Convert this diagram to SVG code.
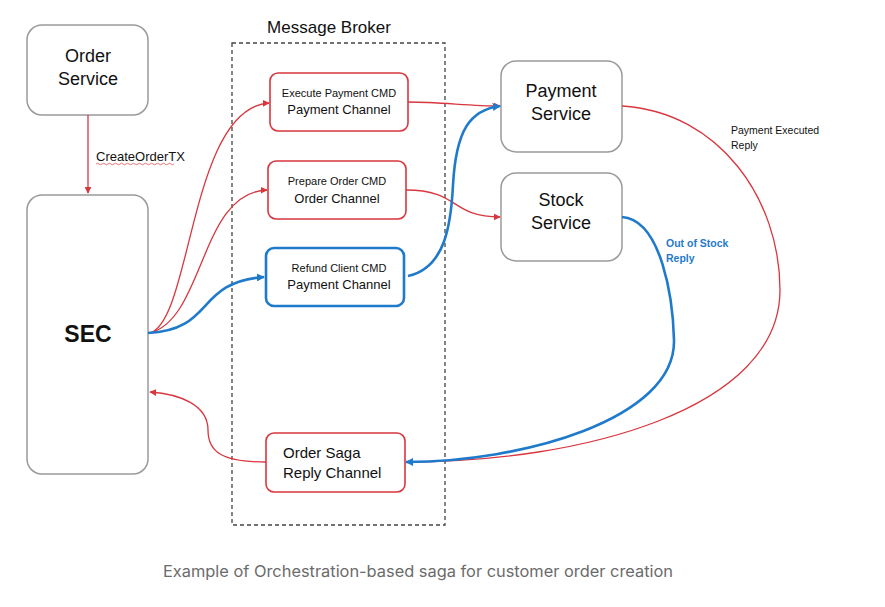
<svg xmlns="http://www.w3.org/2000/svg" width="885" height="607" viewBox="0 0 885 607">
<defs>
<style>
.svc{fill:#fff;stroke:#9a9a9a;stroke-width:1.5}
.rch{fill:#fff;stroke:#d9363e;stroke-width:1.6}
.bch{fill:#fff;stroke:#1f7acb;stroke-width:2.6}
.t{font-family:"Liberation Sans",Arial,sans-serif;fill:#111}
.r{fill:none;stroke:#d9363e;stroke-width:1.3}
.b{fill:none;stroke:#1f7acb;stroke-width:2.6}
</style>
<marker id="ar" viewBox="0 0 10 10" refX="9" refY="5" markerWidth="7" markerHeight="7" markerUnits="userSpaceOnUse" orient="auto"><path d="M0,0 L10,5 L0,10 z" fill="#d9363e"/></marker>
<marker id="ab" viewBox="0 0 10 10" refX="9" refY="5" markerWidth="8" markerHeight="8" markerUnits="userSpaceOnUse" orient="auto"><path d="M0,0 L10,5 L0,10 z" fill="#1f7acb"/></marker>
</defs>
<rect width="885" height="607" fill="#fff"/>

<g id="broker">
<rect x="232" y="43" width="213" height="482" fill="none" stroke="#444" stroke-width="1.3" stroke-dasharray="4,3"/>
<text class="t" x="329" y="33" font-size="17" text-anchor="middle">Message Broker</text>
</g>

<g id="order-service">
<rect class="svc" x="27" y="25" width="121" height="90" rx="15"/>
<text class="t" x="88" y="62" font-size="18" text-anchor="middle">Order</text>
<text class="t" x="88" y="85" font-size="18" text-anchor="middle">Service</text>
</g>

<g id="sec">
<rect class="svc" x="27" y="195" width="121" height="279" rx="15"/>
<text class="t" x="88" y="342" font-size="23" font-weight="bold" text-anchor="middle">SEC</text>
</g>

<g id="execute-payment">
<rect class="rch" x="270" y="73" width="138" height="58" rx="8"/>
<text class="t" x="339" y="97" font-size="11" text-anchor="middle">Execute Payment CMD</text>
<text class="t" x="339" y="114" font-size="13" text-anchor="middle">Payment Channel</text>
</g>

<g id="prepare-order">
<rect class="rch" x="268" y="161" width="138" height="58" rx="8"/>
<text class="t" x="337" y="185" font-size="11" text-anchor="middle">Prepare Order CMD</text>
<text class="t" x="337" y="203" font-size="13" text-anchor="middle">Order Channel</text>
</g>

<g id="refund-client">
<rect class="bch" x="266" y="248" width="138" height="58" rx="8"/>
<text class="t" x="339" y="272" font-size="11" text-anchor="middle">Refund Client CMD</text>
<text class="t" x="339" y="289" font-size="13" text-anchor="middle">Payment Channel</text>
</g>

<g id="order-saga-reply">
<rect class="rch" x="266" y="433" width="139" height="59" rx="8"/>
<text class="t" x="283" y="458" font-size="15">Order Saga</text>
<text class="t" x="283" y="478" font-size="15">Reply Channel</text>
</g>

<g id="payment-service">
<rect class="svc" x="501" y="61" width="121" height="91" rx="15"/>
<text class="t" x="561" y="97" font-size="18" text-anchor="middle">Payment</text>
<text class="t" x="561" y="120" font-size="18" text-anchor="middle">Service</text>
</g>

<g id="stock-service">
<rect class="svc" x="501" y="173" width="121" height="88" rx="15"/>
<text class="t" x="561" y="206" font-size="18" text-anchor="middle">Stock</text>
<text class="t" x="561" y="229" font-size="18" text-anchor="middle">Service</text>
</g>

<g id="connectors">
<path class="r" d="M88,115 L88,193" marker-end="url(#ar)"/>
<path class="r" d="M150,333 C192,320 190,108 269,103" marker-end="url(#ar)"/>
<path class="r" d="M150,333 C205,318 200,192 267,190" marker-end="url(#ar)"/>
<path class="b" d="M148,333 C215,330 195,282 264,277" marker-end="url(#ab)"/>
<path class="r" d="M408,102 C440,102 470,106 500,106" marker-end="url(#ar)"/>
<path class="r" d="M406,190 C460,190 450,217 500,217" marker-end="url(#ar)"/>
<path class="b" d="M408,276 C445,268 451,225 453,185 C456,130 470,110 500,106" marker-end="url(#ab)"/>
<path class="r" d="M622,106 C720,112 780,200 780,290 C780,410 580,462 407,462"/>
<path class="b" d="M622,217 C662,220 673,300 674,340 C676,420 520,462 406,462" marker-end="url(#ab)"/>
<path class="r" d="M266,462 C222,462 208,452 208,430 C208,405 180,394 150,392" marker-end="url(#ar)"/>
</g>

<g id="labels">
<text class="t" x="96" y="161" font-size="13">CreateOrderTX</text>
<path d="M96,164 q1.5,-1.5 3,0 t3,0 t3,0 t3,0 t3,0 t3,0 t3,0 t3,0 t3,0 t3,0 t3,0 t3,0 t3,0 t3,0 t3,0 t3,0 t3,0 t3,0 t3,0 t3,0 t3,0 t3,0 t3,0 t3,0 t3,0 t3,0" fill="none" stroke="#e05050" stroke-width="0.8"/>
<text class="t" x="731" y="134" font-size="10.5" fill="#333">Payment Executed</text>
<text class="t" x="731" y="149" font-size="10.5" fill="#333">Reply</text>
<text class="t" x="666" y="247" font-size="10.5" font-weight="bold" style="fill:#1f7acb">Out of Stock</text>
<text class="t" x="666" y="262" font-size="10.5" font-weight="bold" style="fill:#1f7acb">Reply</text>
</g>

<text x="163" y="577" font-family="Inter,'Liberation Sans',sans-serif" font-size="16" fill="#6b6b6b" textLength="510" lengthAdjust="spacingAndGlyphs">Example of Orchestration-based saga for customer order creation</text>
</svg>
